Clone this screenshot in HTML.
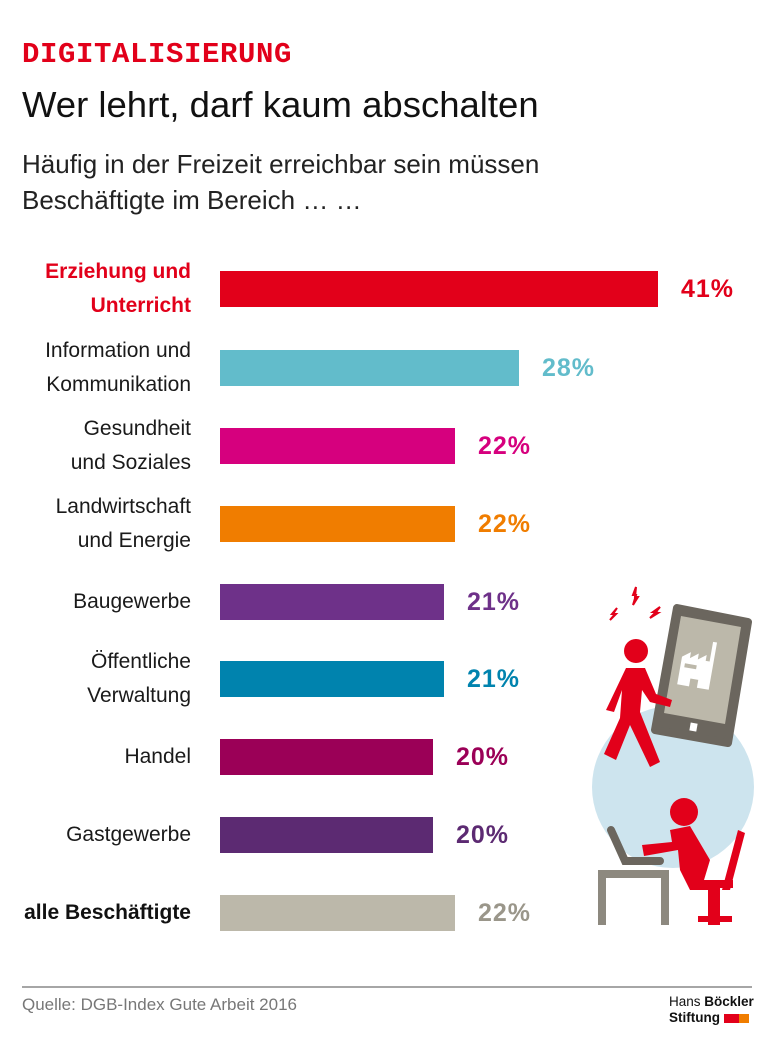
<!DOCTYPE html>
<html><head><meta charset="utf-8"><style>
body{margin:0;width:768px;height:1057px;background:#fff;position:relative;overflow:hidden;font-family:"Liberation Sans Narrow","Liberation Sans",sans-serif;}
.a{position:absolute;white-space:nowrap}
.lab{position:absolute;right:577px;text-align:right;font-size:21px;line-height:34px;color:#1a1a1a}
.bar{position:absolute;left:220px;height:36px}
.val{position:absolute;font-size:25px;font-weight:bold;letter-spacing:1px;line-height:36px}
</style></head><body>
<div class="a" style="left:22px;top:38px;font-family:'Liberation Mono',monospace;font-size:29px;font-weight:bold;color:#e2001a;letter-spacing:0.6px">DIGITALISIERUNG</div>
<div class="a" style="left:22px;top:84px;font-size:36.5px;color:#111">Wer lehrt, darf kaum abschalten</div>
<div class="a" style="left:22px;top:146px;font-size:26px;color:#222;line-height:36px">Häufig in der Freizeit erreichbar sein müssen<br>Beschäftigte im Bereich … …</div>

<div class="lab" style="top:255px;color:#e2001a;font-weight:bold">Erziehung und<br>Unterricht</div>
<div class="bar" style="top:271px;width:438px;background:#e2001a"></div>
<div class="val" style="left:681px;top:271px;color:#e2001a">41%</div>

<div class="lab" style="top:334px">Information und<br>Kommunikation</div>
<div class="bar" style="top:350px;width:299px;background:#62bccb"></div>
<div class="val" style="left:542px;top:350px;color:#62bccb">28%</div>

<div class="lab" style="top:412px">Gesundheit<br>und Soziales</div>
<div class="bar" style="top:428px;width:235px;background:#d6007e"></div>
<div class="val" style="left:478px;top:428px;color:#d6007e">22%</div>

<div class="lab" style="top:490px">Landwirtschaft<br>und Energie</div>
<div class="bar" style="top:506px;width:235px;background:#f07d00"></div>
<div class="val" style="left:478px;top:506px;color:#f07d00">22%</div>

<div class="lab" style="top:585px">Baugewerbe</div>
<div class="bar" style="top:584px;width:224px;background:#6e3189"></div>
<div class="val" style="left:467px;top:584px;color:#6e3189">21%</div>

<div class="lab" style="top:645px">Öffentliche<br>Verwaltung</div>
<div class="bar" style="top:661px;width:224px;background:#0083ae"></div>
<div class="val" style="left:467px;top:661px;color:#0083ae">21%</div>

<div class="lab" style="top:740px">Handel</div>
<div class="bar" style="top:739px;width:213px;background:#9b0057"></div>
<div class="val" style="left:456px;top:739px;color:#9b0057">20%</div>

<div class="lab" style="top:818px">Gastgewerbe</div>
<div class="bar" style="top:817px;width:213px;background:#5c2a72"></div>
<div class="val" style="left:456px;top:817px;color:#5c2a72">20%</div>

<div class="lab" style="top:896px;font-weight:bold;color:#111">alle Beschäftigte</div>
<div class="bar" style="top:895px;width:235px;background:#bcb8aa"></div>
<div class="val" style="left:478px;top:895px;color:#9a968a">22%</div>

<svg class="a" style="left:0;top:0" width="768" height="1057">
<circle cx="673" cy="787" r="81" fill="#cde4ee"/>
<polygon points="677,608 748,622 728,743 655,730" fill="#6b665e" stroke="#6b665e" stroke-width="8" stroke-linejoin="round"/>
<polygon points="681,616 741,627 725,724 664,713" fill="#bcb8aa"/>
<rect x="690" y="723" width="7" height="8" fill="#fff" transform="rotate(10 693 727)"/>
<g transform="rotate(10 700 670)" fill="#fff"><polygon points="680,660 688,654 688,660 696,654 696,660 704,654 704,660 708,660 708,640 712,640 712,688 700,688 700,680 692,680 692,688 680,688"/><rect x="684" y="666" width="12" height="4" fill="#bcb8aa"/></g>
<g fill="#e2001a">
<circle cx="636" cy="651" r="12"/>
<path d="M626 668 L645 668 L656 694 L672 700 L670 707 L650 702 L642 690 L640 712 L660 762 L650 767 L630 725 L616 760 L604 754 L620 718 L622 690 L614 712 L606 710 Z"/>
<path d="M610 620 l5 -6 l-3 0 l5 -6 l-4 6 l3 0 z M633 605 l3 -10 l-3 0 l3 -8 l-1 10 l3 0z M650 618 l6 -6 l-3 0 l7 -5 l-5 6 l3 0z" stroke="#e2001a" stroke-width="2"/>
<circle cx="684" cy="812" r="14"/>
<path d="M670 830 L690 826 L710 860 L704 880 L720 880 L720 925 L708 925 L708 890 L690 890 L680 870 L678 850 L644 856 L642 845 L672 842 Z"/>
<path d="M738 830 L745 833 L730 890 L722 890 Z"/>
<rect x="693" y="880" width="40" height="8"/>
<rect x="712" y="888" width="6" height="30"/>
<rect x="698" y="916" width="34" height="6"/>
</g>
<path d="M611 830 L625 861 L660 861" stroke="#6b665e" stroke-width="8" fill="none" stroke-linecap="round"/>
<path d="M602 925 L602 874 L665 874 L665 925" stroke="#8d897f" stroke-width="8" fill="none"/>
<line x1="22" y1="987" x2="752" y2="987" stroke="#888" stroke-width="1.5"/>
</svg>
<div class="a" style="left:22px;top:995px;font-size:17px;color:#777">Quelle: DGB-Index Gute Arbeit 2016</div>
<div class="a" style="left:669px;top:994px;font-family:'Liberation Sans',sans-serif;font-size:13.5px;line-height:16px;color:#111">Hans <b>Böckler</b><br><b>Stiftung</b> <span style="display:inline-block;width:15px;height:9px;background:#e2001a;vertical-align:-1px"></span><span style="display:inline-block;width:10px;height:9px;background:#f07d00;vertical-align:-1px"></span></div>
</body></html>
